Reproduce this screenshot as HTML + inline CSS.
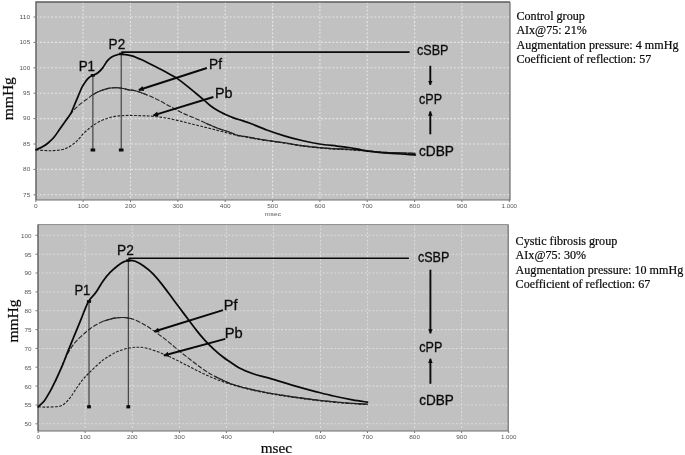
<!DOCTYPE html>
<html><head><meta charset="utf-8"><title>Pulse wave analysis</title>
<style>
html,body{margin:0;padding:0;background:#fff;}
body{width:685px;height:455px;overflow:hidden;font-family:"Liberation Sans",sans-serif;}
svg{display:block;filter:blur(0.4px)}
.grid line{stroke:#e6e6e6;stroke-width:1.1;stroke-dasharray:1.9 1.9;}
.g2 line{stroke:#dcdcdc;stroke-width:1.05}
.tk{stroke:#777;stroke-width:1}
.ax{font-family:"Liberation Sans",sans-serif;font-size:5px;fill:#555}
.lab{font-family:"Liberation Sans",sans-serif;font-size:14.3px;fill:#0c0c0c;stroke:#0c0c0c;stroke-width:0.3}
.ser{font-family:"Liberation Serif",serif;fill:#0c0c0c;stroke:#0c0c0c;stroke-width:0.22}
.main{fill:none;stroke:#0a0a0a;stroke-width:1.75;stroke-linejoin:round;stroke-linecap:round}
.pf{fill:none;stroke:#262626;stroke-width:1.1;stroke-dasharray:4.8 1.6}
.pfs{fill:none;stroke:#262626;stroke-width:1.1}
.pb{fill:none;stroke:#1e1e1e;stroke-width:1.1;stroke-dasharray:2.7 1.5}
.thin{stroke:#222;stroke-width:0.95}
.hl{stroke:#0a0a0a;stroke-width:1.6}
.ar{stroke:#0a0a0a;stroke-width:1.9;fill:none}
</style></head><body>
<svg width="685" height="455" viewBox="0 0 685 455">
<defs>
<marker id="ah" viewBox="0 0 10 10" refX="9" refY="5" markerWidth="6.2" markerHeight="5.2" orient="auto-start-reverse" markerUnits="userSpaceOnUse"><path d="M0 0L10 5L0 10z" fill="#0a0a0a"/></marker>
<marker id="av" viewBox="0 0 10 10" refX="9" refY="5" markerWidth="4.8" markerHeight="4.6" orient="auto-start-reverse" markerUnits="userSpaceOnUse"><path d="M0 0L10 5L0 10z" fill="#0a0a0a"/></marker>
</defs>
<rect width="685" height="455" fill="#fff"/>
<!-- top plot -->
<rect x="36" y="2" width="474" height="198" fill="#c1c1c1"/>
<g class="grid"><line x1="36.0" y1="194.8" x2="510.0" y2="194.8"/><line x1="36.0" y1="169.4" x2="510.0" y2="169.4"/><line x1="36.0" y1="144.0" x2="510.0" y2="144.0"/><line x1="36.0" y1="118.6" x2="510.0" y2="118.6"/><line x1="36.0" y1="93.2" x2="510.0" y2="93.2"/><line x1="36.0" y1="67.8" x2="510.0" y2="67.8"/><line x1="36.0" y1="42.4" x2="510.0" y2="42.4"/><line x1="36.0" y1="17.0" x2="510.0" y2="17.0"/><line x1="83.1" y1="2.0" x2="83.1" y2="200.0"/><line x1="130.5" y1="2.0" x2="130.5" y2="200.0"/><line x1="177.8" y1="2.0" x2="177.8" y2="200.0"/><line x1="225.2" y1="2.0" x2="225.2" y2="200.0"/><line x1="272.6" y1="2.0" x2="272.6" y2="200.0"/><line x1="319.9" y1="2.0" x2="319.9" y2="200.0"/><line x1="367.2" y1="2.0" x2="367.2" y2="200.0"/><line x1="414.6" y1="2.0" x2="414.6" y2="200.0"/><line x1="461.9" y1="2.0" x2="461.9" y2="200.0"/></g>
<path d="M36 200V2H510" fill="none" stroke="#5c5c5c" stroke-width="1.4"/>
<path d="M36 200H510V2" fill="none" stroke="#6e6e6e" stroke-width="1.2"/>
<line x1="33.5" y1="194.8" x2="36.0" y2="194.8" class="tk"/><text x="30.2" y="196.6" text-anchor="end" textLength="7.1" lengthAdjust="spacingAndGlyphs" class="ax">75</text><line x1="33.5" y1="169.4" x2="36.0" y2="169.4" class="tk"/><text x="30.2" y="171.2" text-anchor="end" textLength="7.1" lengthAdjust="spacingAndGlyphs" class="ax">80</text><line x1="33.5" y1="144.0" x2="36.0" y2="144.0" class="tk"/><text x="30.2" y="145.8" text-anchor="end" textLength="7.1" lengthAdjust="spacingAndGlyphs" class="ax">85</text><line x1="33.5" y1="118.6" x2="36.0" y2="118.6" class="tk"/><text x="30.2" y="120.4" text-anchor="end" textLength="7.1" lengthAdjust="spacingAndGlyphs" class="ax">90</text><line x1="33.5" y1="93.2" x2="36.0" y2="93.2" class="tk"/><text x="30.2" y="95.0" text-anchor="end" textLength="7.1" lengthAdjust="spacingAndGlyphs" class="ax">95</text><line x1="33.5" y1="67.8" x2="36.0" y2="67.8" class="tk"/><text x="30.2" y="69.6" text-anchor="end" textLength="10.6" lengthAdjust="spacingAndGlyphs" class="ax">100</text><line x1="33.5" y1="42.4" x2="36.0" y2="42.4" class="tk"/><text x="30.2" y="44.2" text-anchor="end" textLength="10.6" lengthAdjust="spacingAndGlyphs" class="ax">105</text><line x1="33.5" y1="17.0" x2="36.0" y2="17.0" class="tk"/><text x="30.2" y="18.8" text-anchor="end" textLength="10.6" lengthAdjust="spacingAndGlyphs" class="ax">110</text><line x1="35.8" y1="200.0" x2="35.8" y2="202.0" class="tk"/><text x="35.8" y="207.7" text-anchor="middle" textLength="3.6" lengthAdjust="spacingAndGlyphs" class="ax">0</text><line x1="83.1" y1="200.0" x2="83.1" y2="202.0" class="tk"/><text x="83.1" y="207.7" text-anchor="middle" textLength="10.8" lengthAdjust="spacingAndGlyphs" class="ax">100</text><line x1="130.5" y1="200.0" x2="130.5" y2="202.0" class="tk"/><text x="130.5" y="207.7" text-anchor="middle" textLength="10.8" lengthAdjust="spacingAndGlyphs" class="ax">200</text><line x1="177.8" y1="200.0" x2="177.8" y2="202.0" class="tk"/><text x="177.8" y="207.7" text-anchor="middle" textLength="10.8" lengthAdjust="spacingAndGlyphs" class="ax">300</text><line x1="225.2" y1="200.0" x2="225.2" y2="202.0" class="tk"/><text x="225.2" y="207.7" text-anchor="middle" textLength="10.8" lengthAdjust="spacingAndGlyphs" class="ax">400</text><line x1="272.6" y1="200.0" x2="272.6" y2="202.0" class="tk"/><text x="272.6" y="207.7" text-anchor="middle" textLength="10.8" lengthAdjust="spacingAndGlyphs" class="ax">500</text><line x1="319.9" y1="200.0" x2="319.9" y2="202.0" class="tk"/><text x="319.9" y="207.7" text-anchor="middle" textLength="10.8" lengthAdjust="spacingAndGlyphs" class="ax">600</text><line x1="367.2" y1="200.0" x2="367.2" y2="202.0" class="tk"/><text x="367.2" y="207.7" text-anchor="middle" textLength="10.8" lengthAdjust="spacingAndGlyphs" class="ax">700</text><line x1="414.6" y1="200.0" x2="414.6" y2="202.0" class="tk"/><text x="414.6" y="207.7" text-anchor="middle" textLength="10.8" lengthAdjust="spacingAndGlyphs" class="ax">800</text><line x1="461.9" y1="200.0" x2="461.9" y2="202.0" class="tk"/><text x="461.9" y="207.7" text-anchor="middle" textLength="10.8" lengthAdjust="spacingAndGlyphs" class="ax">900</text><line x1="509.3" y1="200.0" x2="509.3" y2="202.0" class="tk"/><text x="509.3" y="207.7" text-anchor="middle" textLength="15.5" lengthAdjust="spacingAndGlyphs" class="ax">1.000</text>
<text x="273" y="216" text-anchor="middle" textLength="16" lengthAdjust="spacingAndGlyphs" class="ax">msec</text>
<path class="pf" d="M66.2 120.0C66.8 119.2 68.5 117.0 69.9 115.2C71.3 113.4 72.9 111.1 74.7 109.2C76.5 107.3 78.5 105.4 80.7 103.6C82.9 101.8 86.0 99.8 88.0 98.3C90.0 96.8 90.8 95.9 92.8 94.7C94.8 93.5 97.6 92.1 100.0 91.1C102.4 90.1 104.9 89.2 107.3 88.6C109.7 88.0 112.1 87.8 114.5 87.7C116.9 87.6 119.4 87.8 121.8 88.2C124.2 88.6 126.8 89.5 129.0 89.9C131.2 90.3 132.3 90.0 135.3 90.8C138.3 91.6 143.1 93.3 147.0 94.9C150.9 96.5 154.8 98.2 158.7 100.2C162.6 102.2 166.5 104.5 170.4 106.6C174.3 108.7 178.1 110.8 182.0 112.7C185.9 114.6 189.8 116.0 193.7 117.7C197.6 119.4 201.5 121.3 205.4 123.0C209.3 124.7 213.0 126.5 217.1 128.0C221.2 129.6 226.6 131.1 230.0 132.3C233.4 133.5 234.5 134.5 237.5 135.3C240.5 136.1 244.5 136.3 248.2 137.0C251.9 137.7 255.9 138.5 259.9 139.2C263.9 139.9 268.2 140.5 272.3 141.1C276.4 141.7 279.8 142.1 284.7 142.8C289.6 143.6 295.1 144.7 301.9 145.6C308.7 146.5 317.5 147.5 325.3 148.1C333.1 148.7 341.9 148.9 348.7 149.3C355.5 149.8 360.4 150.3 366.2 150.8C372.0 151.3 377.8 151.9 383.7 152.2C389.6 152.5 396.0 152.6 401.3 152.8C406.6 153.0 413.0 153.3 415.3 153.4"/>
<path class="pfs" d="M92.8 94.7C94.0 94.1 97.6 92.1 100.0 91.1C102.4 90.1 104.9 89.2 107.3 88.6C109.7 88.0 112.1 87.8 114.5 87.7C116.9 87.6 119.4 87.8 121.8 88.2C124.2 88.6 126.8 89.5 129.0 89.9C131.2 90.3 132.3 90.0 135.3 90.8C138.3 91.6 145.1 94.2 147.0 94.9"/>
<path class="pfs" d="M205.4 123.0C207.3 123.8 213.0 126.5 217.1 128.0C221.2 129.6 226.6 131.1 230.0 132.3C233.4 133.5 234.5 134.5 237.5 135.3C240.5 136.1 244.5 136.3 248.2 137.0C251.9 137.7 255.9 138.5 259.9 139.2C263.9 139.9 268.2 140.5 272.3 141.1C276.4 141.7 279.8 142.1 284.7 142.8C289.6 143.6 295.1 144.7 301.9 145.6C308.7 146.5 317.5 147.5 325.3 148.1C333.1 148.7 341.9 148.9 348.7 149.3C355.5 149.8 360.4 150.3 366.2 150.8C372.0 151.3 377.8 151.9 383.7 152.2C389.6 152.5 396.0 152.6 401.3 152.8C406.6 153.0 413.0 153.3 415.3 153.4"/>
<path class="pb" d="M36.0 149.8C38.2 150.0 45.1 150.7 49.3 150.7C53.5 150.7 58.2 150.4 61.4 149.8C64.6 149.2 66.4 148.2 68.6 147.1C70.8 146.0 72.9 144.5 74.7 143.0C76.5 141.5 77.9 139.9 79.5 138.2C81.1 136.5 82.7 134.2 84.3 132.6C85.9 131.0 87.8 129.7 89.2 128.5C90.6 127.3 91.0 126.8 92.8 125.6C94.6 124.4 97.6 122.5 100.0 121.3C102.4 120.1 104.9 119.2 107.3 118.4C109.7 117.6 112.1 116.9 114.5 116.4C116.9 116.0 119.4 115.9 121.8 115.7C124.2 115.5 125.8 115.4 129.0 115.4C132.2 115.4 137.1 115.6 141.1 115.7C145.1 115.8 148.9 116.0 152.8 116.3C156.7 116.6 160.6 117.1 164.5 117.7C168.4 118.3 172.3 119.2 176.2 120.1C180.1 121.0 184.0 122.0 187.9 123.0C191.8 124.0 195.7 124.9 199.6 125.9C203.5 126.9 207.4 127.8 211.3 128.8C215.2 129.8 218.6 130.7 223.0 131.8C227.4 132.9 233.3 134.7 237.5 135.6C241.7 136.5 244.5 136.7 248.2 137.4C251.9 138.1 255.9 138.9 259.9 139.6C263.9 140.3 268.2 140.9 272.3 141.5C276.4 142.1 279.8 142.4 284.7 143.2C289.6 143.9 295.1 145.1 301.9 146.0C308.7 146.9 317.5 147.9 325.3 148.5C333.1 149.1 341.9 149.4 348.7 149.8C355.5 150.2 360.4 150.7 366.2 151.2C372.0 151.7 377.8 152.2 383.7 152.6C389.6 152.9 396.0 153.1 401.3 153.3C406.6 153.5 413.0 153.7 415.3 153.8"/>
<path class="main" d="M36.0 149.8C37.0 149.4 40.1 148.2 42.1 147.1C44.1 146.0 46.1 144.7 48.1 143.0C50.1 141.3 52.2 139.4 54.2 137.0C56.2 134.6 58.2 131.3 60.2 128.5C62.2 125.7 64.4 122.6 66.2 120.0C68.0 117.4 69.7 115.4 71.1 112.8C72.5 110.2 73.5 107.1 74.7 104.3C75.9 101.5 77.1 98.7 78.3 95.9C79.5 93.1 80.7 89.8 81.9 87.4C83.1 85.0 84.4 83.1 85.6 81.4C86.8 79.7 88.0 78.3 89.2 77.3C90.4 76.3 91.4 76.1 92.8 75.4C94.2 74.7 96.0 74.2 97.6 73.0C99.2 71.8 100.9 70.1 102.5 68.1C104.1 66.1 105.7 62.8 107.3 60.9C108.9 59.0 110.5 57.8 112.1 56.8C113.7 55.8 115.5 55.2 117.0 54.8C118.5 54.3 118.8 53.9 121.3 54.1C123.8 54.3 128.5 54.8 131.9 55.8C135.3 56.8 138.5 58.3 141.8 59.8C145.1 61.3 148.4 63.1 151.7 64.8C155.0 66.5 158.3 68.0 161.6 69.7C164.9 71.4 168.9 73.7 171.5 75.2C174.1 76.7 175.1 77.0 177.4 78.6C179.7 80.2 182.7 82.5 185.3 84.6C188.0 86.7 190.3 88.6 193.3 91.1C196.3 93.6 200.2 96.9 203.2 99.4C206.2 101.9 208.5 104.3 211.1 106.3C213.7 108.3 216.7 110.0 219.0 111.3C221.3 112.6 222.7 113.2 225.0 114.3C227.3 115.3 230.3 116.6 232.9 117.6C235.5 118.6 237.9 119.3 240.8 120.2C243.7 121.1 245.8 121.6 250.1 123.2C254.4 124.8 261.1 127.9 266.8 130.0C272.5 132.1 278.5 134.1 284.3 135.8C290.1 137.6 296.0 139.1 301.9 140.5C307.8 141.9 313.5 143.1 319.4 144.0C325.2 144.9 332.1 145.5 337.0 146.1C341.9 146.7 343.8 146.7 348.7 147.5C353.6 148.3 360.4 149.9 366.2 150.8C372.0 151.7 377.8 152.3 383.7 152.8C389.6 153.3 396.0 153.7 401.3 154.0C406.6 154.3 413.0 154.8 415.3 154.9"/>
<line class="thin" x1="92.9" y1="75.3" x2="92.9" y2="150.5"/><rect x="90.6" y="148.5" width="4.6" height="3" fill="#0a0a0a"/><rect x="90.8" y="74" width="4.2" height="2.6" fill="#0a0a0a"/>
<line class="thin" x1="121.2" y1="53" x2="121.2" y2="150.5"/><rect x="118.9" y="148.5" width="4.6" height="3" fill="#0a0a0a"/><rect x="119.2" y="52.6" width="4.2" height="2.6" fill="#0a0a0a"/>
<line class="hl" x1="121.2" y1="52.1" x2="409.6" y2="52.1"/>
<line class="ar" x1="206.9" y1="68" x2="138.8" y2="90" marker-end="url(#ah)"/>
<line class="ar" x1="213.4" y1="97" x2="153.4" y2="115.4" marker-end="url(#ah)"/>
<line class="ar" x1="430.3" y1="65.8" x2="430.3" y2="84.9" marker-end="url(#av)"/>
<line class="ar" x1="430.3" y1="134.3" x2="430.3" y2="111.5" marker-end="url(#av)"/>
<text class="lab" x="78.7" y="71.4" textLength="16.4" lengthAdjust="spacingAndGlyphs">P1</text>
<text class="lab" x="108.6" y="48.8" textLength="16.6" lengthAdjust="spacingAndGlyphs">P2</text>
<text class="lab" x="209" y="68.6" textLength="13" lengthAdjust="spacingAndGlyphs">Pf</text>
<text class="lab" x="215" y="98.2" textLength="17.6" lengthAdjust="spacingAndGlyphs">Pb</text>
<text class="lab" x="417" y="55" textLength="31.5" lengthAdjust="spacingAndGlyphs">cSBP</text>
<text class="lab" x="419" y="103.8" textLength="23" lengthAdjust="spacingAndGlyphs">cPP</text>
<text class="lab" x="419" y="155.9" textLength="35" lengthAdjust="spacingAndGlyphs">cDBP</text>
<text class="ser" font-size="15.5" transform="translate(12.6 120.2) rotate(-90)" textLength="43" lengthAdjust="spacingAndGlyphs">mmHg</text>
<g class="ser" font-size="12.2">
<text x="516.4" y="19.9" textLength="68.5" lengthAdjust="spacingAndGlyphs">Control group</text>
<text x="516.4" y="34.1" textLength="70.3" lengthAdjust="spacingAndGlyphs">AIx@75: 21%</text>
<text x="516.4" y="48.5" textLength="162.2" lengthAdjust="spacingAndGlyphs">Augmentation pressure: 4 mmHg</text>
<text x="516.4" y="62.9" textLength="134.9" lengthAdjust="spacingAndGlyphs">Coefficient of reflection: 57</text>
</g>
<!-- bottom plot -->
<rect x="38" y="224.6" width="470.2" height="206.4" fill="#c1c1c1"/>
<g class="grid g2"><line x1="38.0" y1="423.8" x2="508.2" y2="423.8"/><line x1="38.0" y1="405.0" x2="508.2" y2="405.0"/><line x1="38.0" y1="386.1" x2="508.2" y2="386.1"/><line x1="38.0" y1="367.2" x2="508.2" y2="367.2"/><line x1="38.0" y1="348.4" x2="508.2" y2="348.4"/><line x1="38.0" y1="329.6" x2="508.2" y2="329.6"/><line x1="38.0" y1="310.7" x2="508.2" y2="310.7"/><line x1="38.0" y1="291.9" x2="508.2" y2="291.9"/><line x1="38.0" y1="273.0" x2="508.2" y2="273.0"/><line x1="38.0" y1="254.2" x2="508.2" y2="254.2"/><line x1="38.0" y1="235.3" x2="508.2" y2="235.3"/><line x1="85.2" y1="224.6" x2="85.2" y2="431.0"/><line x1="132.3" y1="224.6" x2="132.3" y2="431.0"/><line x1="179.4" y1="224.6" x2="179.4" y2="431.0"/><line x1="226.4" y1="224.6" x2="226.4" y2="431.0"/><line x1="273.4" y1="224.6" x2="273.4" y2="431.0"/><line x1="320.5" y1="224.6" x2="320.5" y2="431.0"/><line x1="367.5" y1="224.6" x2="367.5" y2="431.0"/><line x1="414.6" y1="224.6" x2="414.6" y2="431.0"/><line x1="461.6" y1="224.6" x2="461.6" y2="431.0"/></g>
<path d="M38 224.6H508.2" fill="none" stroke="#8c8c8c" stroke-width="1"/>
<path d="M38 431V224.6" fill="none" stroke="#5c5c5c" stroke-width="1.4"/>
<path d="M38 431H508.2V224.6" fill="none" stroke="#6e6e6e" stroke-width="1.2"/>
<line x1="35.5" y1="423.8" x2="38.0" y2="423.8" class="tk"/><text x="31.6" y="426.2" text-anchor="end" textLength="7.1" lengthAdjust="spacingAndGlyphs" class="ax">50</text><line x1="35.5" y1="405.0" x2="38.0" y2="405.0" class="tk"/><text x="31.6" y="407.4" text-anchor="end" textLength="7.1" lengthAdjust="spacingAndGlyphs" class="ax">55</text><line x1="35.5" y1="386.1" x2="38.0" y2="386.1" class="tk"/><text x="31.6" y="388.5" text-anchor="end" textLength="7.1" lengthAdjust="spacingAndGlyphs" class="ax">60</text><line x1="35.5" y1="367.2" x2="38.0" y2="367.2" class="tk"/><text x="31.6" y="369.7" text-anchor="end" textLength="7.1" lengthAdjust="spacingAndGlyphs" class="ax">65</text><line x1="35.5" y1="348.4" x2="38.0" y2="348.4" class="tk"/><text x="31.6" y="350.8" text-anchor="end" textLength="7.1" lengthAdjust="spacingAndGlyphs" class="ax">70</text><line x1="35.5" y1="329.6" x2="38.0" y2="329.6" class="tk"/><text x="31.6" y="332.0" text-anchor="end" textLength="7.1" lengthAdjust="spacingAndGlyphs" class="ax">75</text><line x1="35.5" y1="310.7" x2="38.0" y2="310.7" class="tk"/><text x="31.6" y="313.1" text-anchor="end" textLength="7.1" lengthAdjust="spacingAndGlyphs" class="ax">80</text><line x1="35.5" y1="291.9" x2="38.0" y2="291.9" class="tk"/><text x="31.6" y="294.3" text-anchor="end" textLength="7.1" lengthAdjust="spacingAndGlyphs" class="ax">85</text><line x1="35.5" y1="273.0" x2="38.0" y2="273.0" class="tk"/><text x="31.6" y="275.4" text-anchor="end" textLength="7.1" lengthAdjust="spacingAndGlyphs" class="ax">90</text><line x1="35.5" y1="254.2" x2="38.0" y2="254.2" class="tk"/><text x="31.6" y="256.6" text-anchor="end" textLength="7.1" lengthAdjust="spacingAndGlyphs" class="ax">95</text><line x1="35.5" y1="235.3" x2="38.0" y2="235.3" class="tk"/><text x="31.6" y="237.7" text-anchor="end" textLength="10.6" lengthAdjust="spacingAndGlyphs" class="ax">100</text><line x1="38.2" y1="431.0" x2="38.2" y2="433.0" class="tk"/><text x="38.2" y="439.4" text-anchor="middle" textLength="3.6" lengthAdjust="spacingAndGlyphs" class="ax">0</text><line x1="85.2" y1="431.0" x2="85.2" y2="433.0" class="tk"/><text x="85.2" y="439.4" text-anchor="middle" textLength="10.8" lengthAdjust="spacingAndGlyphs" class="ax">100</text><line x1="132.3" y1="431.0" x2="132.3" y2="433.0" class="tk"/><text x="132.3" y="439.4" text-anchor="middle" textLength="10.8" lengthAdjust="spacingAndGlyphs" class="ax">200</text><line x1="179.4" y1="431.0" x2="179.4" y2="433.0" class="tk"/><text x="179.4" y="439.4" text-anchor="middle" textLength="10.8" lengthAdjust="spacingAndGlyphs" class="ax">300</text><line x1="226.4" y1="431.0" x2="226.4" y2="433.0" class="tk"/><text x="226.4" y="439.4" text-anchor="middle" textLength="10.8" lengthAdjust="spacingAndGlyphs" class="ax">400</text><line x1="273.4" y1="431.0" x2="273.4" y2="433.0" class="tk"/><line x1="320.5" y1="431.0" x2="320.5" y2="433.0" class="tk"/><text x="320.5" y="439.4" text-anchor="middle" textLength="10.8" lengthAdjust="spacingAndGlyphs" class="ax">600</text><line x1="367.5" y1="431.0" x2="367.5" y2="433.0" class="tk"/><text x="367.5" y="439.4" text-anchor="middle" textLength="10.8" lengthAdjust="spacingAndGlyphs" class="ax">700</text><line x1="414.6" y1="431.0" x2="414.6" y2="433.0" class="tk"/><text x="414.6" y="439.4" text-anchor="middle" textLength="10.8" lengthAdjust="spacingAndGlyphs" class="ax">800</text><line x1="461.6" y1="431.0" x2="461.6" y2="433.0" class="tk"/><text x="461.6" y="439.4" text-anchor="middle" textLength="10.8" lengthAdjust="spacingAndGlyphs" class="ax">900</text><line x1="508.7" y1="431.0" x2="508.7" y2="433.0" class="tk"/><text x="508.7" y="439.4" text-anchor="middle" textLength="15.5" lengthAdjust="spacingAndGlyphs" class="ax">1.000</text>
<path class="pf" d="M62.2 365.9C62.7 364.7 63.1 362.2 65.1 358.5C67.0 354.8 71.0 347.8 73.9 343.9C76.8 340.0 79.7 337.8 82.6 335.1C85.5 332.4 88.0 330.0 91.4 327.7C94.8 325.4 99.2 322.9 103.1 321.3C107.0 319.7 111.4 318.7 114.8 318.1C118.2 317.5 120.7 317.4 123.6 317.5C126.5 317.6 128.9 317.8 132.3 318.9C135.7 320.0 140.1 322.2 144.0 324.4C147.9 326.6 151.8 329.3 155.7 332.1C159.6 334.9 163.5 337.9 167.4 341.0C171.3 344.1 175.2 347.6 179.1 350.8C183.0 354.0 186.9 357.0 190.8 360.0C194.7 363.0 198.6 366.1 202.5 368.8C206.4 371.5 209.6 373.7 214.2 376.1C218.8 378.5 225.1 381.5 230.0 383.4C234.9 385.3 238.2 386.1 243.6 387.5C249.0 388.9 256.2 390.5 262.5 391.8C268.8 393.1 275.2 394.1 281.5 395.1C287.8 396.1 294.1 397.0 300.4 397.9C306.7 398.8 313.0 399.6 319.3 400.3C325.6 401.0 331.9 401.6 338.2 402.2C344.5 402.8 352.2 403.3 357.1 403.6C362.0 403.9 365.8 404.0 367.5 404.1"/>
<path class="pfs" d="M103.1 321.3C105.0 320.8 111.4 318.7 114.8 318.1C118.2 317.5 120.7 317.4 123.6 317.5C126.5 317.6 130.9 318.7 132.3 318.9"/>
<path class="pfs" d="M214.2 376.1C216.8 377.3 225.1 381.5 230.0 383.4C234.9 385.3 238.2 386.1 243.6 387.5C249.0 388.9 256.2 390.5 262.5 391.8C268.8 393.1 275.2 394.1 281.5 395.1C287.8 396.1 294.1 397.0 300.4 397.9C306.7 398.8 313.0 399.6 319.3 400.3C325.6 401.0 331.9 401.6 338.2 402.2C344.5 402.8 352.2 403.3 357.1 403.6C362.0 403.9 365.8 404.0 367.5 404.1"/>
<path class="pb" d="M38.2 406.8C39.8 406.9 44.0 407.2 47.5 407.1C51.0 407.0 56.3 406.8 59.2 406.2C62.1 405.6 63.1 404.9 65.1 403.3C67.0 401.7 69.0 399.2 70.9 396.6C72.9 394.0 74.8 390.6 76.8 387.8C78.8 385.0 80.6 382.3 82.6 379.9C84.5 377.5 86.0 376.0 88.5 373.5C91.0 371.0 94.4 367.6 97.3 365.0C100.2 362.4 102.6 360.2 106.0 358.0C109.4 355.8 113.8 353.2 117.7 351.5C121.6 349.8 126.0 348.7 129.4 348.0C132.8 347.3 135.3 347.1 138.2 347.2C141.1 347.2 143.6 347.5 147.0 348.3C150.4 349.1 154.8 350.6 158.7 352.1C162.6 353.6 166.5 355.3 170.4 357.1C174.3 358.9 178.1 360.9 182.0 362.9C185.9 364.8 189.8 366.9 193.7 368.8C197.6 370.8 201.5 372.8 205.4 374.6C209.3 376.4 213.0 378.0 217.1 379.6C221.2 381.2 225.6 382.6 230.0 384.0C234.4 385.4 238.2 386.6 243.6 388.0C249.0 389.4 256.2 391.0 262.5 392.3C268.8 393.6 275.2 394.6 281.5 395.6C287.8 396.6 294.1 397.5 300.4 398.4C306.7 399.3 313.0 400.1 319.3 400.8C325.6 401.5 331.9 402.2 338.2 402.7C344.5 403.2 352.2 403.7 357.1 404.0C362.0 404.3 365.8 404.4 367.5 404.5"/>
<path class="main" d="M38.2 406.8C39.3 405.7 42.6 403.1 44.6 400.4C46.6 397.7 48.5 394.3 50.5 390.7C52.5 387.1 54.3 383.1 56.3 379.0C58.2 374.9 60.2 370.5 62.2 365.9C64.2 361.3 66.0 356.1 68.0 351.2C70.0 346.3 71.7 342.0 73.9 336.6C76.1 331.2 78.8 324.8 81.2 318.9C83.6 313.0 86.1 305.8 88.5 301.4C90.9 297.0 93.4 296.0 95.8 292.6C98.2 289.2 100.7 284.3 103.1 280.9C105.5 277.5 108.0 274.7 110.4 272.2C112.8 269.7 115.5 267.4 117.7 265.7C119.9 264.0 121.8 262.8 123.6 261.9C125.4 261.0 126.5 260.6 128.5 260.5C130.4 260.4 132.7 260.3 135.3 261.3C137.9 262.3 141.1 264.2 144.0 266.3C146.9 268.4 149.9 270.7 152.8 273.6C155.7 276.5 158.7 280.2 161.6 283.9C164.5 287.6 167.5 291.7 170.4 295.6C173.3 299.5 176.2 303.4 179.1 307.3C182.0 311.2 185.0 315.0 187.9 318.9C190.8 322.8 193.8 326.9 196.7 330.6C199.6 334.3 202.5 337.7 205.4 340.9C208.3 344.1 211.3 346.9 214.2 349.6C217.1 352.3 220.4 355.0 223.0 357.0C225.6 359.0 226.8 359.7 229.5 361.5C232.2 363.3 235.0 365.6 238.9 367.7C242.8 369.8 248.4 372.1 253.1 373.8C257.8 375.5 262.6 376.3 267.3 377.6C272.0 378.9 276.8 380.4 281.5 381.8C286.2 383.2 290.1 384.5 295.6 386.1C301.1 387.7 308.3 389.7 314.6 391.3C320.9 392.9 327.2 394.6 333.5 396.0C339.8 397.4 346.7 398.8 352.4 399.8C358.1 400.8 365.0 401.8 367.5 402.2"/>
<line class="thin" x1="89" y1="301.4" x2="89" y2="406.8"/><rect x="87.1" y="405.2" width="3.8" height="3.2" fill="#0a0a0a"/><rect x="86.9" y="300.2" width="4.2" height="2.6" fill="#0a0a0a"/>
<line class="thin" x1="128.3" y1="259" x2="128.3" y2="406.8"/><rect x="126.4" y="405.2" width="3.8" height="3.2" fill="#0a0a0a"/><rect x="126.2" y="259.2" width="4.2" height="2.6" fill="#0a0a0a"/>
<line class="hl" x1="128.3" y1="258.2" x2="408.9" y2="258.2"/>
<line class="ar" x1="223" y1="310.2" x2="154.3" y2="331.5" marker-end="url(#ah)"/>
<line class="ar" x1="225.3" y1="338.8" x2="163.9" y2="355.5" marker-end="url(#ah)"/>
<line class="ar" x1="430.4" y1="269.7" x2="430.4" y2="333.4" marker-end="url(#av)"/>
<line class="ar" x1="430.4" y1="383.8" x2="430.4" y2="358.8" marker-end="url(#av)"/>
<text class="lab" x="74.4" y="295.4" textLength="16" lengthAdjust="spacingAndGlyphs">P1</text>
<text class="lab" x="117" y="254.7" textLength="16.8" lengthAdjust="spacingAndGlyphs">P2</text>
<text class="lab" x="223.8" y="309.5" textLength="13.7" lengthAdjust="spacingAndGlyphs">Pf</text>
<text class="lab" x="224.7" y="338.3" textLength="18" lengthAdjust="spacingAndGlyphs">Pb</text>
<text class="lab" x="417.9" y="261.8" textLength="31.4" lengthAdjust="spacingAndGlyphs">cSBP</text>
<text class="lab" x="419.3" y="352.4" textLength="23.1" lengthAdjust="spacingAndGlyphs">cPP</text>
<text class="lab" x="419.3" y="405.1" textLength="34.6" lengthAdjust="spacingAndGlyphs">cDBP</text>
<text class="ser" font-size="15.5" transform="translate(17.5 342.6) rotate(-90)" textLength="43" lengthAdjust="spacingAndGlyphs">mmHg</text>
<text class="ser" font-size="15.5" x="260.7" y="452.6" textLength="31.3" lengthAdjust="spacingAndGlyphs">msec</text>
<g class="ser" font-size="12.2">
<text x="515.6" y="244.9" textLength="101.7" lengthAdjust="spacingAndGlyphs">Cystic fibrosis group</text>
<text x="515.6" y="259.1" textLength="70.5" lengthAdjust="spacingAndGlyphs">AIx@75: 30%</text>
<text x="515.6" y="273.5" textLength="167.6" lengthAdjust="spacingAndGlyphs">Augmentation pressure: 10 mmHg</text>
<text x="515.6" y="287.9" textLength="134.6" lengthAdjust="spacingAndGlyphs">Coefficient of reflection: 67</text>
</g>
</svg>
</body></html>
